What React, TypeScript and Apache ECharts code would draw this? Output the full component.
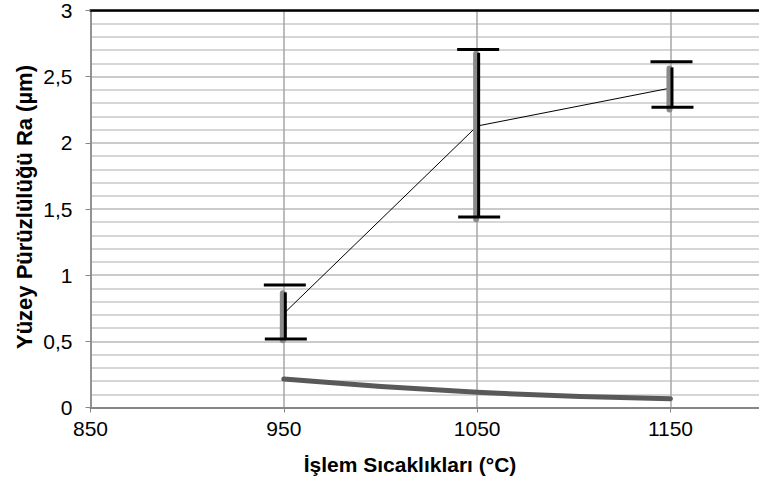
import React, { useEffect, useRef } from "react";
import * as echarts from "echarts";

const xValues = [950, 1050, 1150];
const meanValues = [0.71, 2.127, 2.414];
const errHigh = [0.925, 2.706, 2.613];
const errLow = [0.517, 1.44, 2.268];
const rangeHigh = [0.87, 2.68, 2.57];
const rangeLow = [0.5, 1.415, 2.245];
const trendValues = [0.215, 0.115, 0.066];
const yTitle = "Yüzey Pürüzlülüğü Ra (µm)";
const xTitle = "İşlem Sıcaklıkları (°C)";
const X_MIN = 850;
const X_MAX = 1217;

const FONT = "'Liberation Sans', Arial, sans-serif";

export default function App() {
  const ref = useRef<HTMLDivElement>(null);
  useEffect(() => {
    if (!ref.current) return;
    const chart = echarts.init(ref.current, undefined, { renderer: "svg" });
    const barData = xValues.map((x, i) => [x, errLow[i], errHigh[i], rangeLow[i], rangeHigh[i]]);
    chart.setOption({
      animation: false,
      backgroundColor: "#ffffff",
      grid: { left: 90.5, top: 10, right: 0, bottom: 75.5, containLabel: false },
      xAxis: [
        {
          type: "value",
          min: X_MIN,
          max: X_MAX,
          interval: 100,
          axisLine: { show: true, lineStyle: { color: "#868686", width: 2 } },
          axisTick: { show: true, length: 5, lineStyle: { color: "#868686" } },
          axisLabel: {
            showMaxLabel: false,
            margin: 10,
            fontSize: 21,
            color: "#000",
            fontFamily: FONT,
            formatter: (v: number) => (v === X_MAX ? "" : String(v)),
          },
          splitLine: { show: true, showMaxLine: false, lineStyle: { color: "#a6a6a6", width: 1.5 } },
        },
        {
          type: "value",
          position: "top",
          min: X_MIN,
          max: X_MAX,
          interval: 100,
          axisLine: { show: true, lineStyle: { color: "#000", width: 2.5 } },
          axisTick: { show: false },
          axisLabel: { show: false },
          splitLine: { show: false },
        },
      ],
      yAxis: {
        type: "value",
        min: 0,
        max: 3,
        interval: 0.5,
        axisLine: { show: true, lineStyle: { color: "#868686", width: 1.5 } },
        axisTick: { show: true, length: 5, lineStyle: { color: "#868686" } },
        minorTick: { show: false, splitNumber: 5 },
        minorSplitLine: { show: true, lineStyle: { color: "#c8c8c8", width: 1.5 } },
        splitLine: { show: true, lineStyle: { color: "#b8b8b8", width: 1.5 } },
        axisLabel: {
          margin: 18,
          fontSize: 21,
          color: "#000",
          fontFamily: FONT,
          formatter: (v: number) => String(v).replace(".", ","),
        },
      },
      graphic: [
        {
          type: "text",
          x: 24,
          y: 207,
          rotation: Math.PI / 2,
          style: {
            text: yTitle,
            fontSize: 22,
            fontWeight: "bold",
            fontFamily: FONT,
            fill: "#000",
            align: "center",
            verticalAlign: "middle",
          },
        },
        {
          type: "text",
          x: 410,
          y: 464,
          style: {
            text: xTitle,
            fontSize: 21,
            fontWeight: "bold",
            fontFamily: FONT,
            fill: "#000",
            align: "center",
            verticalAlign: "middle",
          },
        },
      ],
      series: [
        {
          type: "line",
          data: xValues.map((x, i) => [x, trendValues[i]]),
          smooth: 0.5,
          showSymbol: false,
          lineStyle: { color: "#595959", width: 5, cap: "round" },
          z: 2,
        },
        {
          type: "line",
          data: xValues.map((x, i) => [x, meanValues[i]]),
          showSymbol: false,
          lineStyle: { color: "#000", width: 1 },
          z: 3,
        },
        {
          type: "custom",
          data: barData,
          encode: { x: 0, y: [1, 2, 3, 4] },
          z: 4,
          renderItem: (params: any, api: any) => {
            const x = api.value(0);
            const pLow = api.coord([x, api.value(1)]);
            const pHigh = api.coord([x, api.value(2)]);
            const rLow = api.coord([x, api.value(3)]);
            const rHigh = api.coord([x, api.value(4)]);
            const cx = pLow[0];
            return {
              type: "group",
              children: [
                {
                  type: "rect",
                  shape: { x: cx - 4, y: rHigh[1] - 2, width: 6, height: rLow[1] - rHigh[1] + 4, r: 3 },
                  style: { fill: "#8a8a8a" },
                },
                {
                  type: "line",
                  shape: { x1: cx + 1.5, y1: rHigh[1], x2: cx + 1.5, y2: pLow[1] },
                  style: { stroke: "#000", lineWidth: 3 },
                },
                {
                  type: "line",
                  shape: { x1: cx - 20, y1: pHigh[1], x2: cx + 22, y2: pHigh[1] },
                  style: { stroke: "#000", lineWidth: 3 },
                },
                {
                  type: "line",
                  shape: { x1: cx - 19, y1: pLow[1], x2: cx + 23, y2: pLow[1] },
                  style: { stroke: "#000", lineWidth: 3 },
                },
              ],
            };
          },
        },
      ],
    });
    return () => chart.dispose();
  }, []);
  return (
    <div style={{ position: "absolute", left: 0, top: 0, width: 759, height: 483, overflow: "hidden" }}>
      <div ref={ref} style={{ position: "absolute", left: 0, top: 0, width: 800, height: 483 }} />
    </div>
  );
}
